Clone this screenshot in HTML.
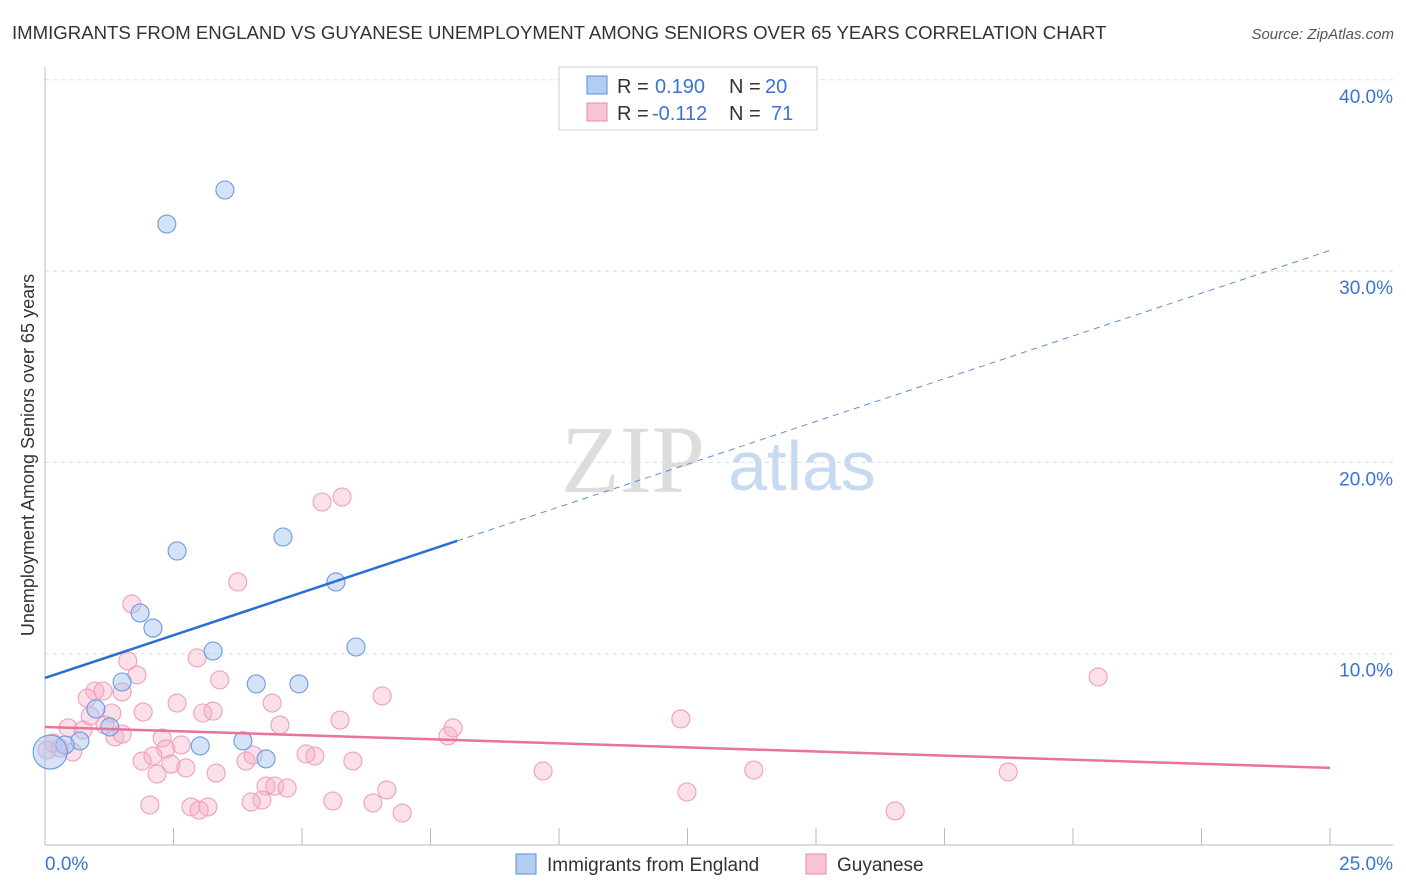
<!DOCTYPE html>
<html><head><meta charset="utf-8">
<style>
body{margin:0;background:#fff;font-family:"Liberation Sans",sans-serif;}
#wrap{position:relative;width:1406px;height:892px;overflow:hidden;}
</style></head>
<body>
<div id="wrap">
<svg id="svg" width="1406" height="892" xmlns="http://www.w3.org/2000/svg">
<text x="12" y="39" font-size="18.6" fill="#333">IMMIGRANTS FROM ENGLAND VS GUYANESE UNEMPLOYMENT AMONG SENIORS OVER 65 YEARS CORRELATION CHART</text>
<text x="1394" y="39" font-size="15" fill="#555" font-style="italic" text-anchor="end">Source: ZipAtlas.com</text>
<text x="633" y="492" font-size="96" fill="#ddd" font-family="Liberation Serif" text-anchor="middle">ZIP</text>
<text x="802" y="490" font-size="70" fill="#c8daf2" text-anchor="middle">atlas</text>
<text transform="translate(34,455) rotate(-90)" font-size="18" fill="#333" text-anchor="middle">Unemployment Among Seniors over 65 years</text>
<g id="grid"></g><g id="marks"></g>
<g>
<rect x="559" y="67" width="258" height="63" fill="#fff" stroke="#ccc"/>
<rect x="587" y="76" width="20" height="18" fill="#b3cdf2" stroke="#5b8fd6"/>
<rect x="587" y="103" width="20" height="18" fill="#f9c4d5" stroke="#e98aab"/>
<text x="617" y="93" font-size="20" fill="#333">R =</text>
<text x="655" y="93" font-size="20" fill="#3a74d0">0.190</text>
<text x="729" y="93" font-size="20" fill="#333">N =</text>
<text x="765" y="93" font-size="20" fill="#3a74d0">20</text>
<text x="617" y="120" font-size="20" fill="#333">R =</text>
<text x="652" y="120" font-size="20" fill="#3a74d0">-0.112</text>
<text x="729" y="120" font-size="20" fill="#333">N =</text>
<text x="771" y="120" font-size="20" fill="#3a74d0">71</text>
</g>
<g>
<rect x="516" y="854" width="20" height="20" fill="#b3cdf2" stroke="#5b8fd6"/>
<text x="547" y="871" font-size="19" fill="#333">Immigrants from England</text>
<rect x="806" y="854" width="20" height="20" fill="#f9c4d5" stroke="#e98aab"/>
<text x="837" y="871" font-size="19" fill="#333">Guyanese</text>
</g>
</svg>
</div>
<script>
const yTicks=[10,20,30,40];
const yTickLabels=["10.0%","20.0%","30.0%","40.0%"];
const xTickVals=[0,2.5,5,7.5,10,12.5,15,17.5,20,22.5,25];
const xEdgeLabels=["0.0%","25.0%"];
const blueX=[3.50,2.37,2.57,4.63,5.66,1.85,2.10,3.27,6.05,4.11,4.94,1.50,0.99,1.26,3.02,3.85,4.30,0.68,0.39,0.1];
const blueY=[34.24,32.46,15.37,16.10,13.75,12.13,11.34,10.14,10.35,8.42,8.42,8.52,7.11,6.17,5.18,5.44,4.50,5.44,5.23,4.86];
const pinkX=[3.75,1.69,1.61,1.79,2.96,3.40,0.97,1.13,0.82,1.50,2.57,1.91,3.07,3.27,4.42,6.56,1.30,0.88,5.74,4.57,0.45,0.74,1.17,1.36,1.50,2.28,2.35,2.65,0.54,7.84,7.94,2.10,1.89,2.45,2.74,2.18,3.33,3.91,4.05,5.08,5.25,5.99,4.30,4.47,4.71,4.22,4.01,5.60,6.65,6.38,6.95,2.04,2.84,3.17,3.00,0.04,0.29,0.16,5.39,5.78,12.37,20.49,9.69,12.49,13.79,18.74,16.54];
const pinkY=[13.75,12.60,9.62,8.89,9.78,8.63,8.05,8.05,7.68,8.00,7.42,6.95,6.90,7.00,7.42,7.79,6.90,6.74,6.53,6.27,6.12,6.01,6.27,5.65,5.80,5.59,5.02,5.23,4.86,5.70,6.12,4.65,4.39,4.23,4.03,3.71,3.76,4.39,4.70,4.76,4.65,4.39,3.08,3.08,2.98,2.35,2.25,2.30,2.88,2.20,1.67,2.09,1.99,1.99,1.83,4.97,5.07,5.33,17.93,18.19,6.59,8.78,3.87,2.77,3.92,3.82,1.78];
const blueTrend=[8.73,0.894];
const blueSolidEnd=8.02, blueDashEnd=25;
const pinkTrend=[6.17,-0.0856];
const X=v=>45+v*51.4, Y=v=>845-v*19.13;
const NS="http://www.w3.org/2000/svg";
function mk(t,a,p){const e=document.createElementNS(NS,t);for(const k in a)e.setAttribute(k,a[k]);p.appendChild(e);return e;}
const grid=document.getElementById('grid'), marks=document.getElementById('marks');
yTicks.forEach((t,i)=>{
 const l=mk('line',{x1:45,x2:1393,y1:Y(t),y2:Y(t),stroke:'#ddd','stroke-dasharray':'4,4'},grid);
 
 
 const tx=mk('text',{x:1393,y:Y(t)+23,'font-size':19,fill:'#3a74d0','text-anchor':'end'},grid);
 tx.textContent=yTickLabels[i];
 
 
});
const ax=mk('line',{x1:45,x2:45,y1:67,y2:845,stroke:'#bbb'},grid);


const bx=mk('line',{x1:45,x2:1393,y1:845,y2:845,stroke:'#bbb'},grid);


xTickVals.forEach(v=>{
 if(v===0)return;
 const t=mk('line',{x1:X(v),x2:X(v),y1:828,y2:845,stroke:'#bbb'},grid);
 
 
});
const xl0=mk('text',{x:45,y:870,'font-size':19,fill:'#3a74d0'},grid);xl0.textContent=xEdgeLabels[0];


const xl1=mk('text',{x:1393,y:870,'font-size':19,fill:'#3a74d0','text-anchor':'end'},grid);xl1.textContent=xEdgeLabels[1];


pinkX.forEach((x,i)=>{
 const c=mk('circle',{cx:X(x),cy:Y(pinkY[i]),r:9,fill:'rgba(246,176,200,0.4)',stroke:'#eea0bb','stroke-width':1.1},marks);
 
 
});
blueX.forEach((x,i)=>{
 const c=mk('circle',{cx:X(x),cy:Y(blueY[i]),r:i===blueX.length-1?17:9,fill:'rgba(170,200,242,0.5)',stroke:'#6a9ade','stroke-width':1.1},marks);
 
 
});
const bl=mk('line',{x1:X(0),y1:Y(blueTrend[0]),x2:X(blueSolidEnd),y2:Y(blueTrend[0]+blueTrend[1]*blueSolidEnd),stroke:'#2a6fd4','stroke-width':2.5},marks);


const bd=mk('line',{x1:X(blueSolidEnd),y1:Y(blueTrend[0]+blueTrend[1]*blueSolidEnd),x2:X(blueDashEnd),y2:Y(blueTrend[0]+blueTrend[1]*blueDashEnd),stroke:'#5b8fd6','stroke-width':1,'stroke-dasharray':'6,5'},marks);


const pl=mk('line',{x1:X(0),y1:Y(pinkTrend[0]),x2:X(25),y2:Y(pinkTrend[0]+pinkTrend[1]*25),stroke:'#e8739c','stroke-width':2.5},marks);


</script>
</body></html>
